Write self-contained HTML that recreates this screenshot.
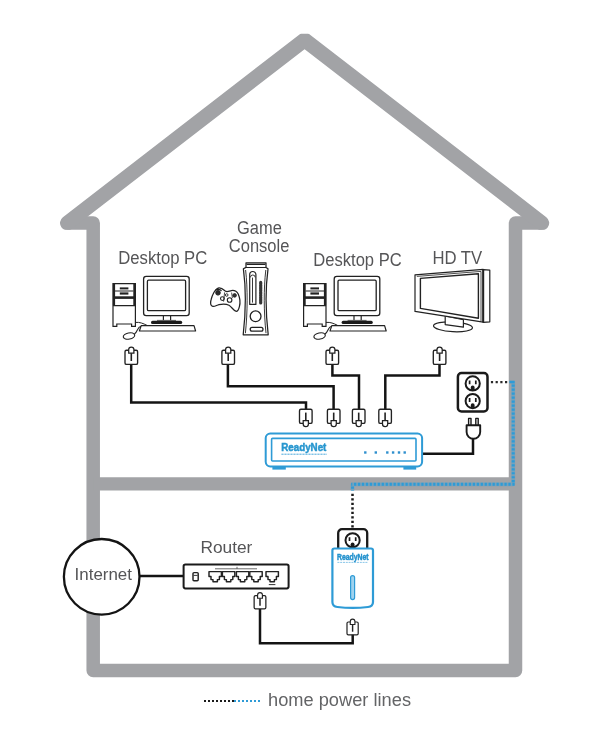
<!DOCTYPE html>
<html>
<head>
<meta charset="utf-8">
<title>Home network diagram</title>
<style>
html,body{margin:0;padding:0;background:#fff;}
body{width:600px;height:750px;overflow:hidden;font-family:"Liberation Sans",sans-serif;}
svg{display:block;}
text{font-family:"Liberation Sans",sans-serif;fill:#555557;}
.k{stroke:#1a1a1a;fill:none;}
.cab{stroke:#141414;stroke-width:2.5;fill:none;stroke-linejoin:miter;}
</style>
</head>
<body>
<svg width="600" height="750" viewBox="0 0 600 750">
<defs>
  <filter id="idf" x="0" y="0" width="600" height="750" filterUnits="userSpaceOnUse" color-interpolation-filters="sRGB"><feOffset dx="0" dy="0"/></filter>
  <!-- RJ45 style cable plug, tab up; origin = centre-x, box top -->
  <g id="plug">
    <rect x="-6.3" y="0" width="12.6" height="14.2" rx="1.5" fill="#fff" stroke="#222" stroke-width="1.35"/>
    <path d="M-2.6,2.8 V-0.6 A2.6,2.6 0 0 1 2.6,-0.6 V2.8 Z" fill="#fff" stroke="#222" stroke-width="1.25"/>
    <path d="M0,3 V10.8" fill="none" stroke="#222" stroke-width="1.6"/>
  </g>
  <!-- desktop pc (absolute coords of first PC) -->
  <g id="pc">
    <!-- tower -->
    <path d="M113,283.6 H135.4 V326.4 H131.6 V324 H116.8 V326.4 H113 Z" fill="#fff" stroke="#222" stroke-width="1.2"/>
    <path d="M114,283.6 V305.5 M134.4,283.6 V305.5" stroke="#222" stroke-width="2.2" fill="none"/>
    <path d="M113,297.6 H135.4" stroke="#222" stroke-width="2.6" fill="none"/>
    <path d="M113,305.6 H135.4 M115,291 H133.4" stroke="#222" stroke-width="1.1" fill="none"/>
    <rect x="119.8" y="287.4" width="8.6" height="2" fill="#222"/>
    <rect x="119.8" y="292.4" width="8.6" height="2.2" fill="#222"/>
    <!-- monitor -->
    <rect x="143.6" y="276.4" width="45.6" height="39.2" rx="2.6" fill="#fff" stroke="#222" stroke-width="1.3"/>
    <rect x="147.4" y="280.2" width="38.2" height="30.4" rx="1.2" fill="#fff" stroke="#222" stroke-width="1.3"/>
    <path d="M163.4,315.6 V320.6 M170.6,315.6 V320.6" stroke="#222" stroke-width="1.2" fill="none"/>
    <path d="M152.6,322.4 H180.6" stroke="#1a1a1a" stroke-width="3.2" stroke-linecap="round" fill="none"/>
    <path d="M157,320.4 H176" stroke="#555" stroke-width="1" fill="none"/>
    <!-- keyboard -->
    <path d="M141.2,325.6 H194 L195.6,331 H139.4 Z" fill="#fff" stroke="#222" stroke-width="1.2" stroke-linejoin="round"/>
    <!-- cables + mouse -->
    <path d="M135.4,322.4 C140,322 143,323.4 147,325.4" fill="none" stroke="#222" stroke-width="1"/>
    <path d="M141,326.2 C137,327 138,331.5 134.4,334" fill="none" stroke="#222" stroke-width="1.1"/>
    <ellipse cx="129" cy="336" rx="5.8" ry="3.1" transform="rotate(-12 129 336)" fill="#fff" stroke="#222" stroke-width="1.2"/>
  </g>
  <!-- wall socket face -->
  <g id="sock">
    <circle cx="0" cy="0" r="7.1" fill="#fff" stroke="#1a1a1a" stroke-width="2"/>
    <path d="M-3.1,-3 V0.8 M3.1,-3 V0.8" stroke="#1a1a1a" stroke-width="1.7" fill="none"/>
    <path d="M-1.9,6.6 V4 A1.9,1.9 0 0 1 1.9,4 V6.6 Z" fill="#1a1a1a"/>
  </g>
</defs>

<rect width="600" height="750" fill="#fff"/>

<!-- house -->
<clipPath id="roofclip"><rect x="0" y="33.8" width="600" height="196"/></clipPath>
<path d="M541.8,223 L515.5,223 L515.5,670.6 L93.2,670.6 L93.2,223 L67.4,223" fill="none" stroke="#a2a3a6" stroke-width="13.5" stroke-linejoin="round" stroke-linecap="round"/>
<path d="M67.4,223 L304.6,39.9 L541.8,223" fill="none" stroke="#a2a3a6" stroke-width="14.8" stroke-linejoin="miter" stroke-linecap="round" clip-path="url(#roofclip)"/>
<path d="M93.2,483.8 H515.5" stroke="#a2a3a6" stroke-width="13.2" fill="none"/>

<!-- labels -->
<g filter="url(#idf)">
<text x="118.3" y="264.3" font-size="17.6" textLength="89" lengthAdjust="spacingAndGlyphs">Desktop PC</text>
<text x="237" y="234.4" font-size="17.6" textLength="44.8" lengthAdjust="spacingAndGlyphs">Game</text>
<text x="228.8" y="252.4" font-size="17.6" textLength="60.6" lengthAdjust="spacingAndGlyphs">Console</text>
<text x="313.3" y="265.8" font-size="17.6" textLength="88.4" lengthAdjust="spacingAndGlyphs">Desktop PC</text>
<text x="432.4" y="264.3" font-size="17.6" textLength="49.8" lengthAdjust="spacingAndGlyphs">HD TV</text>
<text x="200.4" y="552.8" font-size="17.4" textLength="52" lengthAdjust="spacingAndGlyphs">Router</text>
<text x="268" y="705.7" font-size="17.6" textLength="143" lengthAdjust="spacingAndGlyphs" style="fill:#636466">home power lines</text>
</g>

<!-- PCs -->
<use href="#pc"/>
<use href="#pc" transform="translate(190.6,0)"/>

<!-- game controller -->
<g fill="#fff" stroke="#222" stroke-width="1.25" stroke-linejoin="round">
  <path d="M219,287.8 C221.5,287.6 223.4,289.4 225.2,291 C227,292.4 229,291 231.4,290.6 C234,290.2 236.8,291.4 238.2,294 C240,298 240.4,303 239.4,306.6 C238.6,310 237.4,311.6 235.8,311.2 C233.6,310.6 231.6,306.8 229,305.2 C226,303.8 222,304 219,304.6 C216.4,305.4 214.6,306.8 212.8,306.4 C210.4,305.8 210.2,303 211,300 C212,295.6 215,288.4 219,287.8 Z"/>
  <circle cx="218" cy="292.8" r="2.3" fill="#2a2a2a" stroke-width="1"/>
  <path d="M215.4,290.4 C217,288.8 220,289 221.6,291" fill="none" stroke-width="1.1"/>
  <circle cx="222.4" cy="298.6" r="1.9" stroke-width="1.1"/>
  <circle cx="229.6" cy="300" r="2.3" stroke-width="1.1"/>
  <circle cx="226.7" cy="295" r="1.3" stroke-width="0.9"/>
  <circle cx="234.6" cy="295.4" r="1.8" fill="#333" stroke-width="0.9"/>
  <path d="M224.6,292.4 L223.6,301.6 M231.6,292.6 L232.4,298" fill="none" stroke-width="0.8"/>
</g>

<!-- game console -->
<g fill="none" stroke="#222" stroke-width="1.1" stroke-linejoin="round">
  <path d="M243.4,268.8 L246,267.4 V262.8 H266 V267.4 L268,268.8 C265.4,288 265.6,312 268.2,334.8 H243.2 C245.8,312 246,288 243.4,268.8 Z" fill="#fff" stroke-width="1.25"/>
  <path d="M246,267.5 H266 M246.6,264.4 H265.4" />
  <path d="M245.6,270 C247.8,289 247.6,312 245.4,333.2 M265.8,270 C263.6,289 263.8,312 266,333.2" stroke-width="0.9"/>
  <path d="M249.7,304.4 V274.6 A3.1,3.1 0 0 1 255.9,274.6 V304.4 Z" stroke-width="1.2"/>
  <path d="M252.5,277.6 V302.6 M250.4,277.4 A2.4,2.4 0 0 1 255.2,277.4" stroke-width="0.9"/>
  <path d="M260.7,282.4 V303" stroke-width="3.2" stroke="#333" stroke-linecap="round" stroke-dasharray="1.7 0.7"/>
  <circle cx="255.6" cy="316.3" r="5.4" stroke-width="1.3"/>
  <rect x="250.2" y="327.4" width="12.8" height="3.8" rx="1.9" stroke-width="1.3"/>
</g>

<!-- HD TV -->
<g fill="#fff" stroke="#222" stroke-width="1.2" stroke-linejoin="round">
  <ellipse cx="453" cy="326.8" rx="19.5" ry="4.9" transform="rotate(3 453 326.8)"/>
  <path d="M445.2,316 V324.6 L463.4,327.2 V319.6 Z"/>
  <path d="M483.2,269.6 L489.8,270.2 V321.8 L483.2,322.4 Z"/>
  <path d="M415,274.8 L483.2,269.4 V322.2 L415,311.4 Z"/>
  <path d="M416.8,276.4 L481,271.4 V321" stroke-width="0.8"/>
  <path d="M483.2,269.6 V322.2" stroke-width="2"/>
  <path d="M420.4,278.4 L478.4,273.8 V318.2 L420.4,308.4 Z" stroke-width="1.4"/>
</g>

<!-- cables -->
<path class="cab" d="M131.2,364 V402.4 H306 V410"/>
<path class="cab" d="M227.9,364 V386.2 H333.6 V410"/>
<path class="cab" d="M332.4,364 V375.6 H359 V410"/>
<path class="cab" d="M439.5,364 V375.4 H385.3 V410"/>
<path class="cab" d="M423,453.7 H473 V438.6"/>
<path class="cab" d="M260,608.6 V643.2 H352.7 V634"/>
<path class="cab" d="M140,576 H183"/>

<!-- cable plugs -->
<use href="#plug" transform="translate(131.3,350.2)"/>
<use href="#plug" transform="translate(228.2,350.2)"/>
<use href="#plug" transform="translate(332.3,350.2)"/>
<use href="#plug" transform="translate(439.6,350.2)"/>
<use href="#plug" transform="translate(305.8,423.4) scale(1,-1)"/>
<use href="#plug" transform="translate(333.7,423.4) scale(1,-1)"/>
<use href="#plug" transform="translate(358.7,423.4) scale(1,-1)"/>
<use href="#plug" transform="translate(385.1,423.4) scale(1,-1)"/>
<use href="#plug" transform="translate(260,595.6) scale(0.93,0.94)"/>
<use href="#plug" transform="translate(352.6,622) scale(0.89,0.9)"/>

<!-- ReadyNet switch -->
<g>
  <rect x="272.4" y="465.4" width="13.4" height="4.2" fill="#2e9bd6"/>
  <rect x="403.4" y="465.4" width="12.8" height="4.2" fill="#2e9bd6"/>
  <rect x="265.7" y="433.5" width="156.4" height="32.9" rx="4.6" fill="#fff" stroke="#2e9bd6" stroke-width="2"/>
  <rect x="271.6" y="438.4" width="144.4" height="22.6" rx="1" fill="#fff" stroke="#2e9bd6" stroke-width="1.6"/>
  <text filter="url(#idf)" x="281.2" y="451" font-size="10.6" font-weight="bold" textLength="45.2" lengthAdjust="spacingAndGlyphs" style="fill:#2796cf;stroke:#2796cf;stroke-width:0.45">ReadyNet</text>
  <path d="M281.4,454.2 H327" stroke="#4aa8db" stroke-width="1" stroke-dasharray="2.2 0.8" fill="none"/>
  <g fill="#2e8fce">
    <rect x="364.1" y="451.3" width="2.4" height="2.4"/>
    <rect x="374.6" y="451.3" width="2.4" height="2.4"/>
    <rect x="386.1" y="451.3" width="2.4" height="2.4"/>
    <rect x="391.9" y="451.3" width="2.4" height="2.4"/>
    <rect x="397.8" y="451.3" width="2.4" height="2.4"/>
    <rect x="403.5" y="451.3" width="2.4" height="2.4"/>
  </g>
</g>

<!-- wall outlet (upstairs) -->
<rect x="457.9" y="373.1" width="29.6" height="38.4" rx="3.6" fill="#fff" stroke="#1a1a1a" stroke-width="2.5"/>
<use href="#sock" transform="translate(472.7,383.4)"/>
<use href="#sock" transform="translate(472.7,401.1)"/>

<!-- power plug -->
<g fill="#fff" stroke="#1a1a1a" stroke-width="1.9" stroke-linejoin="round">
  <path d="M468.6,425 V418.4 H471 V425 M475.8,425 V418.4 H478.2 V425" stroke-width="1.4"/>
  <path d="M466.6,425.2 H480.2 V432 A6.8,6.8 0 0 1 466.6,432 Z"/>
</g>

<!-- power line dotted path -->
<path d="M490.9,382.1 H508" stroke="#2a2a2a" stroke-width="2.3" stroke-dasharray="2.2 2.5" fill="none"/>
<path d="M513.2,381 V484.3 H352.5 V490.6" stroke="#3aa3dc" stroke-width="3.8" stroke-opacity="0.42" fill="none" stroke-linejoin="round"/>
<path d="M509.4,382 H514.6" stroke="#2e9bd6" stroke-width="2.6" fill="none"/>
<path d="M513.2,384.6 V483.4" stroke="#2e9bd6" stroke-width="3" stroke-dasharray="2.2 1.78" fill="none"/>
<path d="M514.6,484.3 H351.2" stroke="#2e9bd6" stroke-width="3" stroke-dasharray="2.2 1.76" fill="none"/>
<path d="M352.5,486.6 V491" stroke="#2e9bd6" stroke-width="2.8" stroke-dasharray="2.2 1.8" fill="none"/>
<path d="M352.5,493.8 V528" stroke="#1a1a1a" stroke-width="2.5" stroke-dasharray="2.3 2.2" fill="none"/>

<!-- downstairs outlet + powerline adapter -->
<path d="M338.2,552 V533 A3.8,3.8 0 0 1 342,529.2 H363.4 A3.8,3.8 0 0 1 367.2,533 V552" fill="#fff" stroke="#1a1a1a" stroke-width="2.3"/>
<use href="#sock" transform="translate(352.6,540.3)"/>
<path d="M332.4,550.4 Q332.4,548.5 334.4,548.5 H371 Q373,548.5 373,550.4 V602 Q373,606.6 368,607 Q352.6,608.8 337.4,607 Q332.4,606.6 332.4,602 Z" fill="#fff" stroke="#2e9bd6" stroke-width="2.2" stroke-linejoin="round"/>
<text filter="url(#idf)" x="337" y="560" font-size="9.2" font-weight="bold" textLength="31.6" lengthAdjust="spacingAndGlyphs" style="fill:#2492ce;stroke:#2492ce;stroke-width:0.5">ReadyNet</text>
<path d="M337.4,562.4 H368" stroke="#6bb8e2" stroke-width="0.8" stroke-dasharray="2 0.8" fill="none"/>
<rect x="350.6" y="575.6" width="4" height="24" rx="2" fill="#9fd2ee" stroke="#2e9bd6" stroke-width="1.2"/>

<!-- router -->
<rect x="183.6" y="564.4" width="105" height="24" rx="1.8" fill="#fff" stroke="#1a1a1a" stroke-width="2"/>
<g fill="#fff" stroke="#222" stroke-width="1.45" stroke-linejoin="round">
  <rect x="193" y="572.6" width="5.2" height="8.2" rx="1"/>
  <path d="M193.6,575.4 H197.6" stroke-width="0.9"/>
  <g id="port">
    <path d="M209,571.6 H221.4 V576.4 H219.4 V579.6 H217.4 V581.8 H213 V579.6 H211 V576.4 H209 Z"/>
  </g>
  <use href="#port" transform="translate(13.4,0)"/>
  <use href="#port" transform="translate(27.4,0)"/>
  <use href="#port" transform="translate(40.8,0)"/>
  <use href="#port" transform="translate(57,0)"/>
  <path d="M215,568.8 H257 M237,568.8 V566.8" stroke-width="0.8" stroke="#444"/>
  <path d="M268.8,584.6 H275.4" stroke-width="1" stroke="#333"/>
</g>

<!-- internet -->
<circle cx="101.7" cy="576.8" r="37.8" fill="#fff" stroke="#141414" stroke-width="2.3"/>
<text filter="url(#idf)" x="74.6" y="579.6" font-size="17.4" textLength="57.4" lengthAdjust="spacingAndGlyphs">Internet</text>

<!-- legend -->
<path d="M204,701 H234" stroke="#1a1a1a" stroke-width="2.2" stroke-dasharray="2 2" fill="none"/>
<path d="M234,701 H261" stroke="#2e9bd6" stroke-width="2.2" stroke-dasharray="2 2" fill="none"/>
</svg>
</body>
</html>
